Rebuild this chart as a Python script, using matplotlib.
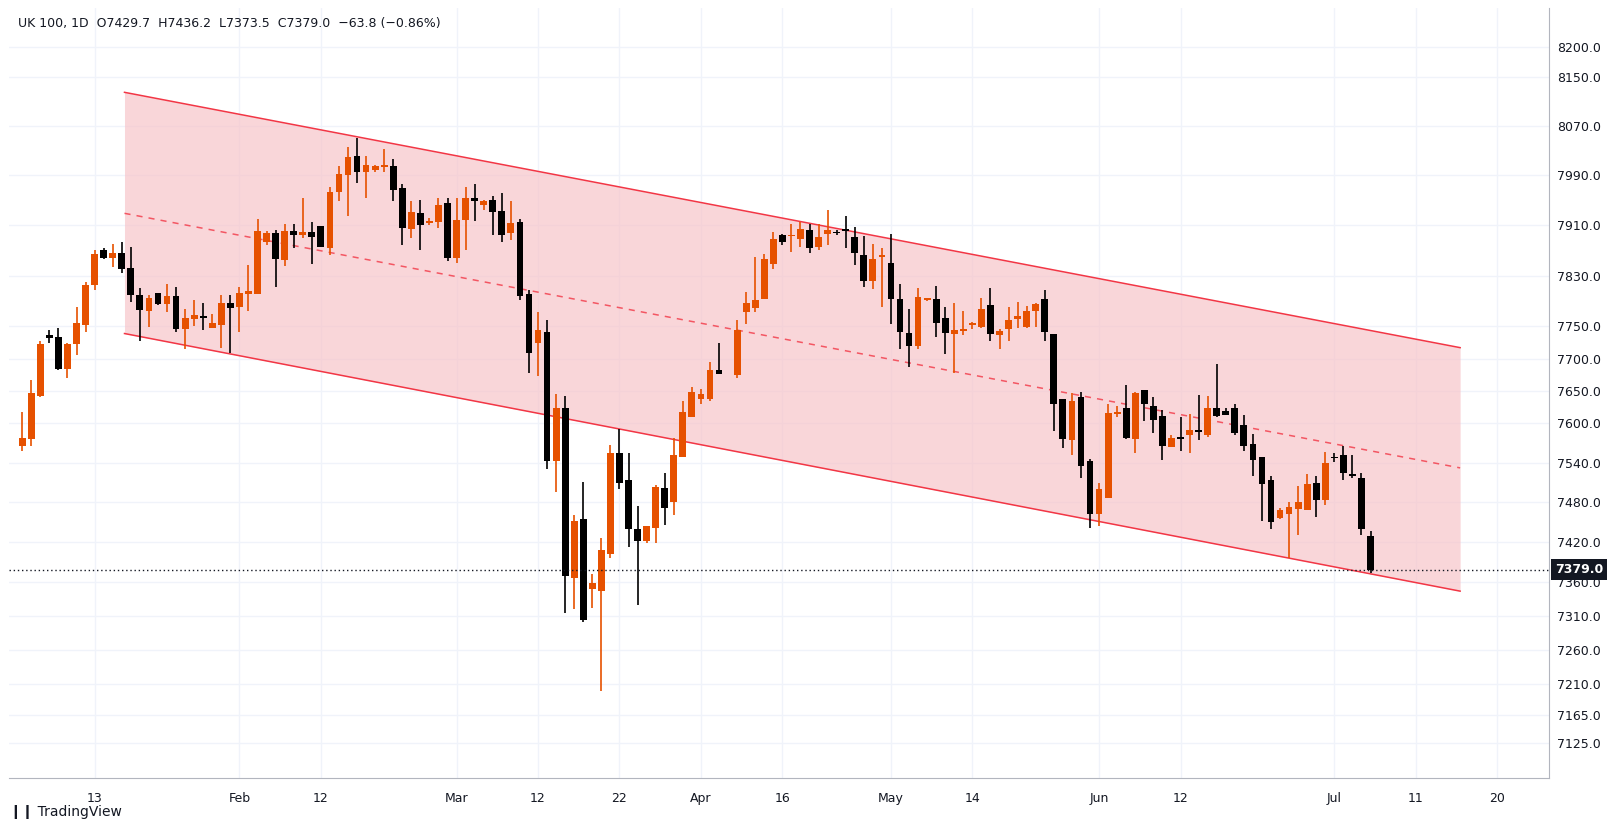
import numpy as np
import matplotlib.pyplot as plt
from matplotlib.ticker import FixedLocator, NullLocator, FixedFormatter

# ---- data: daily UK 100 candles (O, C, H, L), bar index 0 = Jan 4 ----
opens = [7565, 7576, 7642, 7737, 7734, 7684, 7723, 7753, 7815, 7871,
         7858, 7866, 7842, 7800, 7775, 7803, 7786, 7798, 7746, 7762,
         7767, 7747, 7753, 7787, 7780, 7801, 7801, 7884, 7898, 7855,
         7900, 7894, 7899, 7909, 7873, 7963, 7990, 8021, 7995, 7999,
         8004, 8005, 7970, 7904, 7930, 7913, 7915, 7945, 7858, 7918,
         7953, 7942, 7951, 7933, 7897, 7915, 7801, 7725, 7742, 7542,
         7623, 7366, 7454, 7350, 7347, 7403, 7554, 7513, 7440, 7421,
         7441, 7501, 7481, 7549, 7610, 7637, 7638, 7683, np.nan, 7675,
         7772, 7779, 7793, 7849, 7894, 7893, 7888, 7902, 7876, 7896,
         7899, 7904, 7891, 7862, 7822, 7859, 7850, 7793, 7740, 7720,
         7791, 7793, 7763, 7739, 7743, 7752, 7749, 7784, 7736, 7746,
         7761, 7749, 7774, 7793, 7739, 7638, 7574, 7641, 7542, 7462,
         7486, 7614, 7624, 7576, 7651, 7627, 7611, 7564, 7579, 7582,
         7590, 7582, 7623, 7619, 7623, 7597, 7568, 7549, 7514, 7456,
         7462, 7470, 7468, 7509, 7483, 7548, 7552, 7522, 7516, 7429.7]
closes = [7577, 7646, 7722, 7732, 7684, 7723, 7756, 7815, 7865, 7858,
          7866, 7840, 7800, 7776, 7794, 7786, 7798, 7746, 7763, 7768,
          7764, 7755, 7787, 7779, 7803, 7805, 7900, 7897, 7857, 7900,
          7894, 7899, 7891, 7876, 7964, 7992, 8020, 7995, 8006, 8005,
          8006, 7967, 7906, 7931, 7910, 7917, 7943, 7858, 7918, 7953,
          7948, 7948, 7931, 7895, 7913, 7798, 7708, 7744, 7543, 7623,
          7369, 7451, 7304, 7359, 7408, 7554, 7509, 7439, 7421, 7444,
          7503, 7472, 7552, 7618, 7649, 7645, 7683, 7676, np.nan, 7745,
          7787, 7791, 7857, 7888, 7884, 7895, 7904, 7873, 7891, 7902,
          7898, 7901, 7866, 7822, 7857, 7862, 7793, 7742, 7720, 7797,
          7794, 7756, 7740, 7744, 7746, 7755, 7778, 7739, 7743, 7760,
          7767, 7775, 7786, 7742, 7630, 7576, 7635, 7535, 7462, 7500,
          7616, 7617, 7577, 7646, 7629, 7605, 7566, 7578, 7576, 7590,
          7587, 7624, 7612, 7613, 7585, 7566, 7544, 7508, 7450, 7468,
          7473, 7480, 7507, 7483, 7539, 7547, 7524, 7519, 7440, 7379.0]
highs = [7618, 7667, 7728, 7744, 7748, 7725, 7781, 7820, 7870, 7873,
         7880, 7884, 7876, 7811, 7800, 7803, 7817, 7812, 7778, 7792,
         7787, 7769, 7800, 7800, 7812, 7846, 7920, 7901, 7903, 7912,
         7912, 7954, 7915, 7909, 7971, 8005, 8036, 8051, 8021, 8007,
         8033, 8017, 7976, 7948, 7951, 7921, 7954, 7953, 7954, 7971,
         7976, 7951, 7957, 7962, 7948, 7920, 7807, 7772, 7760, 7645,
         7642, 7461, 7511, 7372, 7426, 7567, 7592, 7555, 7474, 7444,
         7506, 7524, 7577, 7635, 7656, 7653, 7695, 7725, np.nan, 7760,
         7804, 7860, 7865, 7899, 7896, 7912, 7915, 7912, 7912, 7935,
         7903, 7925, 7907, 7893, 7880, 7873, 7896, 7816, 7778, 7810,
         7795, 7813, 7781, 7787, 7774, 7757, 7795, 7810, 7746, 7781,
         7789, 7782, 7787, 7807, 7739, 7638, 7646, 7648, 7545, 7509,
         7629, 7627, 7659, 7648, 7651, 7640, 7621, 7582, 7610, 7615,
         7643, 7642, 7692, 7623, 7629, 7613, 7583, 7549, 7519, 7471,
         7481, 7504, 7523, 7519, 7556, 7555, 7566, 7552, 7525, 7436.2]
lows = [7558, 7565, 7640, 7725, 7682, 7670, 7705, 7742, 7807, 7856,
        7844, 7834, 7789, 7728, 7749, 7784, 7772, 7741, 7715, 7750,
        7744, 7747, 7717, 7709, 7742, 7775, 7801, 7879, 7812, 7845,
        7873, 7889, 7848, 7876, 7863, 7948, 7924, 7978, 7953, 7995,
        7995, 7949, 7878, 7889, 7870, 7910, 7905, 7853, 7850, 7870,
        7917, 7935, 7895, 7884, 7887, 7792, 7677, 7673, 7531, 7496,
        7315, 7321, 7301, 7322, 7200, 7396, 7500, 7413, 7326, 7419,
        7419, 7446, 7461, 7549, 7610, 7629, 7635, 7676, np.nan, 7670,
        7754, 7772, 7793, 7841, 7879, 7868, 7876, 7866, 7870, 7879,
        7895, 7873, 7847, 7812, 7809, 7780, 7754, 7715, 7687, 7715,
        7790, 7734, 7707, 7677, 7736, 7746, 7748, 7727, 7715, 7727,
        7748, 7747, 7749, 7727, 7589, 7562, 7552, 7517, 7441, 7444,
        7486, 7610, 7576, 7554, 7604, 7585, 7544, 7564, 7557, 7555,
        7574, 7579, 7610, 7613, 7582, 7557, 7519, 7452, 7439, 7454,
        7397, 7430, 7468, 7458, 7476, 7541, 7514, 7517, 7431, 7373.5]

# regression channel (bar index, price)
chan_x = [11.3, 158.9]
chan_upper = [8125, 7717]
chan_mid = [7929, 7532]
chan_lower = [7739, 7347]

price_ticks = [8200, 8150, 8070, 7990, 7910, 7830, 7750, 7700, 7650, 7600,
               7540, 7480, 7420, 7360, 7310, 7260, 7210, 7165, 7125]
date_ticks = [8, 24, 33, 48, 57, 66, 75, 84, 96, 105, 119, 128, 145, 154, 163]
date_labels = ["13", "Feb", "12", "Mar", "12", "22", "Apr", "16", "May", "14",
               "Jun", "12", "Jul", "11", "20"]

UP = "#e65100"
DOWN = "#000000"
CH = "#f23645"

fig = plt.figure(figsize=(16.13, 8.26), dpi=100)
ax = fig.add_axes([0.0056, 0.058, 0.9546, 0.932])

o = np.array(opens, float)
c = np.array(closes, float)
h = np.array(highs, float)
l = np.array(lows, float)
idx = np.arange(len(o))
ok = ~np.isnan(o)
colors = np.where(c >= o, UP, DOWN)

# channel
ax.fill_between(chan_x, chan_lower, chan_upper, color="#f7c5ca", alpha=0.7, lw=0, zorder=1)
ax.plot(chan_x, chan_upper, color=CH, lw=1.1, zorder=2)
ax.plot(chan_x, chan_lower, color=CH, lw=1.1, zorder=2)
ax.plot(chan_x, chan_mid, color=CH, lw=1.1, ls=(0, (4, 4)), alpha=0.8, zorder=2)

# candles
ax.vlines(idx[ok], l[ok], h[ok], colors=colors[ok], lw=1.2, zorder=3)
bottom = np.minimum(o, c)
height = np.maximum(np.abs(c - o), 1.5)
ax.bar(idx[ok], height[ok], bottom=bottom[ok], width=0.75, color=colors[ok], lw=0, zorder=4)

# last price line + label
last = closes[-1]
ax.axhline(last, color="#131722", lw=1, ls=(0, (1, 2)), zorder=5)

ax.set_yscale("log")
ax.set_ylim(7075, 8264)
ax.set_xlim(-1.46, 168.7)
ax.yaxis.set_major_locator(FixedLocator(price_ticks))
ax.yaxis.set_major_formatter(FixedFormatter(["%.1f" % p for p in price_ticks]))
ax.yaxis.set_minor_locator(NullLocator())
ax.yaxis.tick_right()
ax.set_xticks(date_ticks)
ax.set_xticklabels(date_labels)
ax.tick_params(axis="both", length=0, labelsize=9, colors="#131722", pad=6)
ax.tick_params(axis="x", pad=10)
ax.grid(True, color="#f0f3fa", lw=1, zorder=0)
ax.set_axisbelow(True)
for side in ["top", "left"]:
    ax.spines[side].set_visible(False)
ax.spines["right"].set_color("#b2b5be")
ax.spines["bottom"].set_color("#b2b5be")

ax.text(1.004, last, "%.1f" % last, transform=ax.get_yaxis_transform(), ha="left", va="center",
        fontsize=9, fontweight="bold", color="white", zorder=10,
        bbox=dict(boxstyle="square,pad=0.3", fc="#131722", ec="none"))

fig.text(0.011, 0.972, "UK 100, 1D  O7429.7  H7436.2  L7373.5  C7379.0  \u221263.8 (\u22120.86%)",
         fontsize=9, color="#131722", va="center")
fig.text(0.006, 0.017, "\u2759\u2759 TradingView", fontsize=10, color="#131722", va="center")

fig.savefig("out.png", dpi=100)
